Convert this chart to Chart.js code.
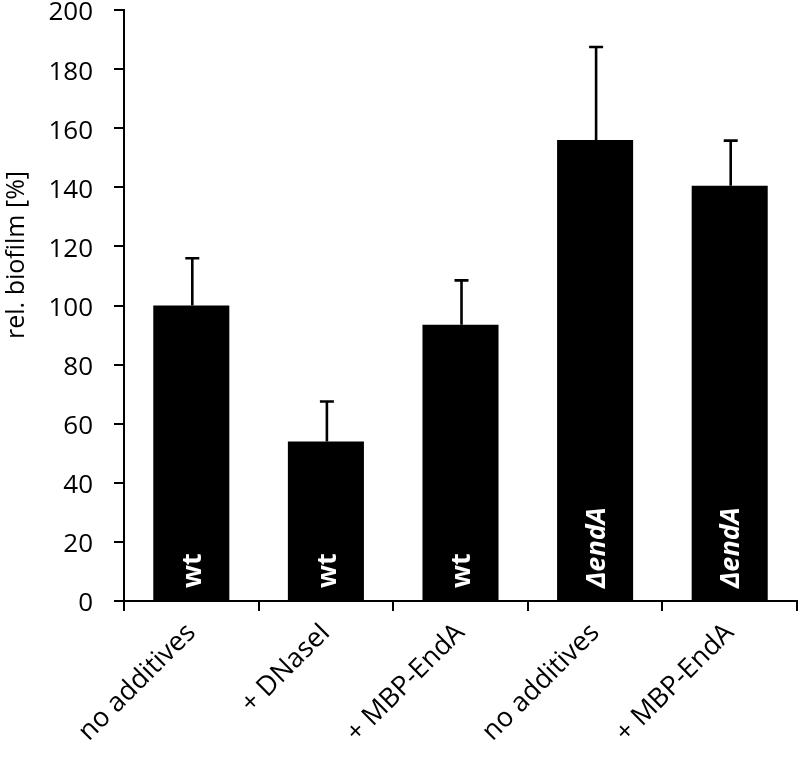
<!DOCTYPE html>
<html>
<head>
<meta charset="utf-8">
<script src="https://cdn.jsdelivr.net/npm/chart.js@4.4.1/dist/chart.umd.min.js"></script>
<style>
  body{margin:0;background:#fff}
  #wrap{width:800px;height:758px}
</style>
</head>
<body>
<div id="wrap"><canvas id="myChart"></canvas></div>
<script>
// values
const categories = ["no additives", "+ DNaseI", "+ MBP-EndA", "no additives", "+ MBP-EndA"]
const strains = ["wt", "wt", "wt", "ΔendA", "ΔendA"]
const biofilm = [100, 54, 93.5, 156, 140.5]
const errorUp = [16, 13.5, 15, 31.5, 15.3]
const yMin = 0
const yMax = 200
const yStep = 20
const yTitle = "rel. biofilm [%]"

const FONT = "'Open Sans', 'DejaVu Sans', sans-serif"

// upward-only error bars
const errorBars = {
    id: "errorBars",
    afterDatasetsDraw(chart){
        const {ctx, scales:{x, y}} = chart
        ctx.save()
        ctx.strokeStyle = "#000"
        ctx.lineWidth = 2.6
        biofilm.forEach((v, i)=>{
            const cx = x.getPixelForValue(i) + 1
            const y0 = y.getPixelForValue(v)
            const y1 = y.getPixelForValue(v + errorUp[i])
            ctx.beginPath()
            ctx.moveTo(cx, y0)
            ctx.lineTo(cx, y1)
            ctx.moveTo(cx - 7, y1)
            ctx.lineTo(cx + 7, y1)
            ctx.stroke()
        })
        ctx.restore()
    }
}

// strain names inside the bars + axis title (sits above the centre in the original)
const barLabels = {
    id: "barLabels",
    afterDatasetsDraw(chart){
        const {ctx, scales:{x, y}} = chart
        ctx.save()
        ctx.textAlign = "left"
        ctx.textBaseline = "middle"
        strains.forEach((s, i)=>{
            const cx = x.getPixelForValue(i)
            const by = y.getPixelForValue(0)
            ctx.save()
            ctx.fillStyle = "#fff"
            ctx.translate(cx + 2, by - 13)
            ctx.rotate(-Math.PI / 2)
            ctx.font = (s === "wt" ? "bold " : "italic bold ") + "27px " + FONT
            ctx.fillText(s, 0, 0)
            ctx.restore()
        })
        ctx.save()
        ctx.fillStyle = "#000"
        ctx.textAlign = "center"
        ctx.font = "25px " + FONT
        ctx.translate(17, 255)
        ctx.rotate(-Math.PI / 2)
        ctx.fillText(yTitle, 0, 0)
        ctx.restore()
        ctx.restore()
    }
}

const ctx = document.getElementById("myChart")

new Chart(ctx, {
    type: "bar",
    data: {
        labels: categories,
        datasets: [{
            data: biofilm,
            backgroundColor: "#000",
            borderWidth: 0,
            categoryPercentage: 1,
            barPercentage: 0.565
        }]
    },
    options: {
        responsive: true,
        maintainAspectRatio: false,
        animation: false,
        layout: { padding: { top: 10, right: 3, left: 0, bottom: 0 } },
        plugins: {
            legend: { display: false },
            tooltip: { enabled: false }
        },
        scales: {
            x: {
                grid: {
                    offset: true,
                    drawOnChartArea: false,
                    color: "#000",
                    lineWidth: 2,
                    tickLength: 10
                },
                border: { color: "#000", width: 2 },
                ticks: {
                    color: "#000",
                    font: { family: FONT, size: 27 },
                    maxRotation: 45,
                    minRotation: 45,
                    padding: 6,
                    autoSkip: false
                },
                afterFit(scale){
                    scale.height = 157
                    scale.paddingLeft = 0
                    scale.paddingRight = 0
                }
            },
            y: {
                min: yMin,
                max: yMax,
                grid: {
                    drawOnChartArea: false,
                    color: "#000",
                    lineWidth: 2,
                    tickLength: 10
                },
                border: { color: "#000", width: 2 },
                ticks: {
                    stepSize: yStep,
                    color: "#000",
                    font: { family: FONT, size: 26 },
                    padding: 21,
                    labelOffset: 3
                },
                afterFit(scale){
                    scale.width = 124
                    scale.paddingTop = 0
                    scale.paddingBottom = 0
                }
            }
        }
    },
    plugins: [errorBars, barLabels]
})
</script>
</body>
</html>
